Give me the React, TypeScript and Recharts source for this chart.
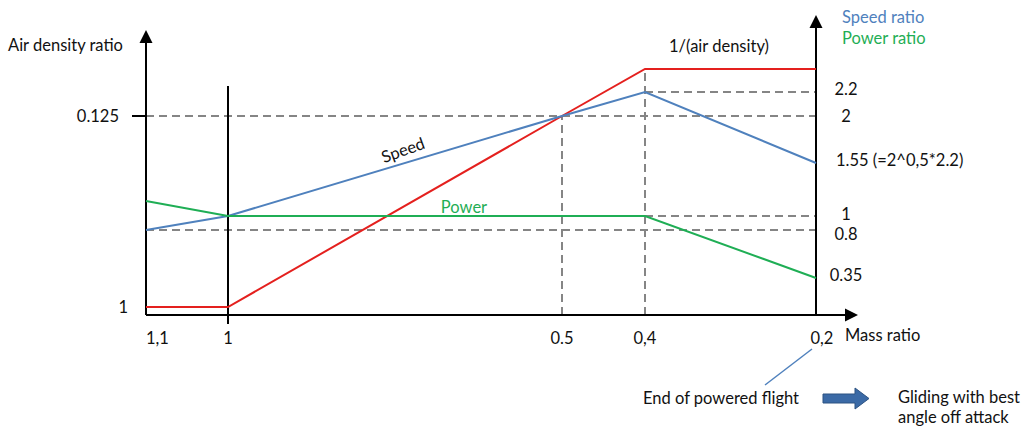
import React from 'react';
import { LineChart, Line, XAxis, YAxis, ReferenceLine } from 'recharts';

// Schematic positions along the mass-ratio axis (the original is not to scale)
const xPositions = [0, 82, 416, 499, 670];
const xTickLabels = ['1,1', '1', '0.5', '0,4', '0,2'];

// Schematic heights (same vertical units for all three curves)
const airDensityInverse = [8, 8, 199, 246, 246];
const speedRatio = [85, 99, 199, 223, 152];
const powerRatio = [114, 99, 99, 99, 37];

const leftTickValues = [8, 199];
const leftTickLabels = ['1', '0.125'];
const rightTickValues = [226, 199, 155, 101, 81, 40];
const rightTickLabels = ['2.2', '2', '1.55 (=2^0,5*2.2)', '1', '0.8', '0.35'];

const data = xPositions.map((x, i) => ({
  x,
  red: airDensityInverse[i],
  blue: speedRatio[i],
  green: powerRatio[i],
}));

const FONT = 'Lato, "Open Sans", sans-serif';
const FS = 16.5;
const RED = '#E4201E';
const BLUE = '#4F81BD';
const GREEN = '#1FAE55';
const GRAY = '#858585';

const arrowShape = (props: any) => {
  const { x1, y1, x2, y2 } = props;
  const dx = x2 - x1;
  const dy = y2 - y1;
  const len = Math.sqrt(dx * dx + dy * dy) || 1;
  const ux = dx / len;
  const uy = dy / len;
  const hl = 13;
  const hw = 6.5;
  const bx = x2 - ux * hl;
  const by = y2 - uy * hl;
  const px = -uy;
  const py = ux;
  return (
    <g>
      <line x1={x1} y1={y1} x2={bx} y2={by} stroke="#000" strokeWidth={2} />
      <polygon
        points={`${x2},${y2} ${bx + px * hw},${by + py * hw} ${bx - px * hw},${by - py * hw}`}
        fill="#000"
      />
    </g>
  );
};

const XTick = (props: any) => {
  const { x, y, payload, index } = props;
  const i = xPositions.indexOf(payload.value);
  const label = i >= 0 ? xTickLabels[i] : '';
  const anchor = index === 0 ? 'start' : 'middle';
  const dx = index === xPositions.length - 1 ? 6 : 0;
  return (
    <text x={x + dx} y={y + 15} textAnchor={anchor} dominantBaseline="central"
      fontFamily={FONT} fontSize={FS} fill="#111">
      {label}
    </text>
  );
};

const LeftTick = (props: any) => {
  const { x, y, payload } = props;
  const i = leftTickValues.indexOf(payload.value);
  const label = i >= 0 ? leftTickLabels[i] : '';
  const hasMark = i === 1;
  return (
    <g>
      {hasMark && <line x1={x - 6} y1={y} x2={x + 8} y2={y} stroke="#000" strokeWidth={2} />}
      <text x={hasMark ? x - 19 : x - 10} y={y} textAnchor="end" dominantBaseline="central"
        fontFamily={FONT} fontSize={FS} fill="#111">
        {label}
      </text>
    </g>
  );
};

const RightTick = (props: any) => {
  const { x, y, payload } = props;
  const i = rightTickValues.indexOf(payload.value);
  const label = i >= 0 ? rightTickLabels[i] : '';
  const long = label.length > 5;
  return (
    <text x={long ? x + 12 : x + 22} y={y} textAnchor={long ? 'start' : 'middle'}
      dominantBaseline="central" fontFamily={FONT} fontSize={FS} fill="#111">
      {label}
    </text>
  );
};

const txt = { fontFamily: FONT, fontSize: FS, fill: '#111', dominantBaseline: 'central' as const };

export default function App() {
  return (
    <div style={{ position: 'absolute', left: 0, top: 0, width: 1036, height: 444, background: '#fff' }}>
      <LineChart width={1036} height={444} data={data}
        margin={{ top: 15, right: 20, bottom: 99, left: 86 }}>
        <XAxis dataKey="x" type="number" domain={[0, 670]} ticks={xPositions}
          axisLine={false} tickLine={false} height={30} tick={<XTick />} interval={0} />
        <YAxis yAxisId="L" type="number" domain={[0, 300]} ticks={leftTickValues}
          axisLine={false} tickLine={false} width={60} tick={<LeftTick />} interval={0} />
        <YAxis yAxisId="R" orientation="right" type="number" domain={[0, 300]} ticks={rightTickValues}
          axisLine={false} tickLine={false} width={200} tick={<RightTick />} interval={0} />

        {/* dashed guide lines */}
        <ReferenceLine yAxisId="L" segment={[{ x: 0, y: 199 }, { x: 670, y: 199 }]} stroke={GRAY} strokeWidth={2} strokeDasharray="8 5" />
        <ReferenceLine yAxisId="L" segment={[{ x: 0, y: 85 }, { x: 670, y: 85 }]} stroke={GRAY} strokeWidth={2} strokeDasharray="8 5" />
        <ReferenceLine yAxisId="L" segment={[{ x: 499, y: 223 }, { x: 670, y: 223 }]} stroke={GRAY} strokeWidth={2} strokeDasharray="8 5" />
        <ReferenceLine yAxisId="L" segment={[{ x: 499, y: 99 }, { x: 670, y: 99 }]} stroke={GRAY} strokeWidth={2} strokeDasharray="8 5" />
        <ReferenceLine yAxisId="L" segment={[{ x: 416, y: 0 }, { x: 416, y: 199 }]} stroke={GRAY} strokeWidth={2} strokeDasharray="8 5" />
        <ReferenceLine yAxisId="L" segment={[{ x: 499, y: 0 }, { x: 499, y: 246 }]} stroke={GRAY} strokeWidth={2} strokeDasharray="8 5" />

        {/* axes */}
        <ReferenceLine yAxisId="L" ifOverflow="visible" segment={[{ x: 0, y: 0 }, { x: 712, y: 0 }]} shape={arrowShape} />
        <ReferenceLine yAxisId="L" ifOverflow="visible" segment={[{ x: 0, y: 0 }, { x: 0, y: 285 }]} shape={arrowShape} />
        <ReferenceLine yAxisId="L" ifOverflow="visible" segment={[{ x: 670, y: 0 }, { x: 670, y: 300 }]} shape={arrowShape} />
        <ReferenceLine yAxisId="L" ifOverflow="visible" segment={[{ x: 82, y: -9 }, { x: 82, y: 229 }]} stroke="#000" strokeWidth={2} />

        <Line yAxisId="L" type="linear" dataKey="red" stroke={RED} strokeWidth={2} dot={false} isAnimationActive={false} />
        <Line yAxisId="R" type="linear" dataKey="blue" stroke={BLUE} strokeWidth={2} dot={false} isAnimationActive={false} />
        <Line yAxisId="R" type="linear" dataKey="green" stroke={GREEN} strokeWidth={2} dot={false} isAnimationActive={false} />
      </LineChart>

      <svg width={1036} height={444} style={{ position: 'absolute', left: 0, top: 0, pointerEvents: 'none' }}>
        <text x={8} y={45} {...txt}>Air density ratio</text>
        <text x={719} y={46} textAnchor="middle" {...txt}>1/(air density)</text>
        <text x={842} y={17} {...txt} fill={BLUE}>Speed ratio</text>
        <text x={842} y={38} {...txt} fill={GREEN}>Power ratio</text>
        <text x={403} y={150} textAnchor="middle" {...txt} transform="rotate(-20 403 150)">Speed</text>
        <text x={464} y={207} textAnchor="middle" {...txt} fill={GREEN}>Power</text>
        <text x={845} y={335} {...txt}>Mass ratio</text>
        <text x={643} y={398} {...txt}>End of powered flight</text>
        <text x={898} y={397} {...txt}>Gliding with best</text>
        <text x={898} y={417} {...txt}>angle off attack</text>
        <line x1={812} y1={349} x2={765} y2={385} stroke={BLUE} strokeWidth={1.5} />
        <polygon points="823,394 855,394 855,388 869,398.5 855,409 855,403 823,403"
          fill="#3B6AA6" stroke="#2C5282" strokeWidth={1} />
      </svg>
    </div>
  );
}
